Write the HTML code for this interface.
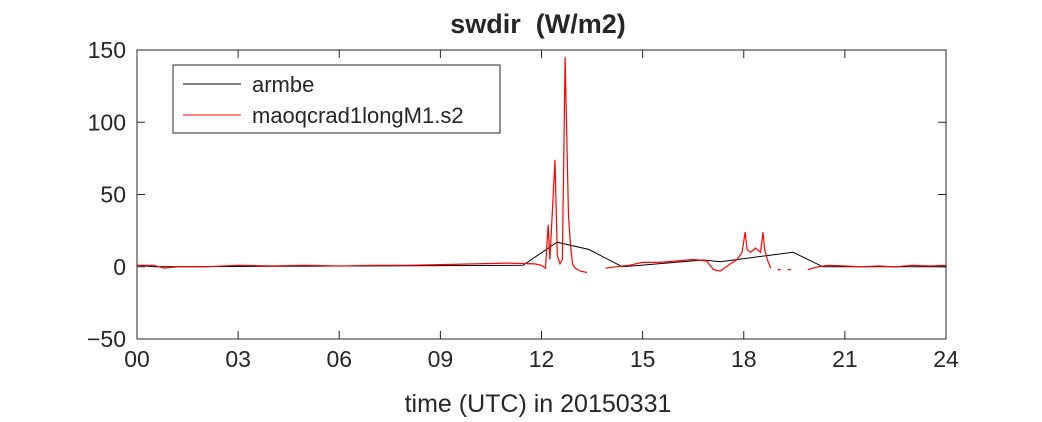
<!DOCTYPE html>
<html><head><meta charset="utf-8"><style>
body{margin:0;background:#fff;font-family:"Liberation Sans",sans-serif}
svg text{font-family:"Liberation Sans",sans-serif;fill:#262626}
</style></head><body>
<svg width="1042" height="417">
<g id="root"></g>
</svg>
<script>
const xTicks=[0,3,6,9,12,15,18,21,24];
const xTickLabels=["00","03","06","09","12","15","18","21","24"];
const yTicks=[-50,0,50,100,150];
const blackT=[0,0.5,11.45,12.46,13.4,14.4,16.8,17.3,19.46,20.35,24];
const blackV=[1,0,1,17,12,0,4.7,3.5,10,0,0];
const redT=[0,0.5,0.8,1.2,2,3,4,5,6,7,8,9,10,11,11.8,12.0,12.12,12.2,12.25,12.3,12.4,12.47,12.55,12.62,12.7,12.8,12.86,12.92,13.0,13.15,13.35,null,13.9,14.2,14.6,15,15.5,16,16.5,16.9,17.1,17.3,17.6,17.8,17.95,18.04,18.1,18.2,18.35,18.5,18.57,18.62,18.7,18.8,null,19.0,19.1,null,19.3,19.4,null,19.9,20.2,20.5,21,21.5,22,22.5,23,23.5,24];
const redV=[1,1,-1,0,0,1,0.5,1,0.5,1,1,1.5,2,2.5,2,1,-1,29,5,28,74,8,2,5,145,35,15,2,-1,-3,-4,null,-1,0,1,3,3,4,5,4,-2,-3,2,5,10,24,12,10,13,10,24,12,5,-1,null,-2,-2,null,-2,-2,null,-2,0,1,0.5,0,0.5,0,1,0.5,1];
const X=t=>137+(t/24)*809, Y=v=>266.75-v*1.445;
const NS="http://www.w3.org/2000/svg", root=document.getElementById('root');
function mk(tag,a,txt){const e=document.createElementNS(NS,tag);for(const k in a)e.setAttribute(k,a[k]);if(txt!==undefined)e.textContent=txt;root.appendChild(e);return e;}
let e=mk('rect',{x:137,y:50,width:809,height:289,fill:'#fff',stroke:'#262626','stroke-width':1});


xTicks.forEach((t,i)=>{
 let l=mk('path',{d:`M${X(t)},339v-8M${X(t)},50v8`,stroke:'#262626'});
 
 
 let tx=mk('text',{x:X(t),y:367,'text-anchor':'middle','font-size':23},xTickLabels[i]);
 
 
});
yTicks.forEach(v=>{
 let l=mk('path',{d:`M137,${Y(v)}h8M946,${Y(v)}h-8`,stroke:'#262626'});
 
 
 let tx=mk('text',{x:126,y:Y(v)+8,'text-anchor':'end','font-size':23},String(v).replace('-','−'));
 
 
});
function path(ts,vs){let d='',pen=false;ts.forEach((t,i)=>{if(t===null||vs[i]===null){pen=false;return;}d+=(pen?'L':'M')+X(t).toFixed(1)+','+Y(vs[i]).toFixed(1);pen=true;});return d;}
e=mk('path',{d:path(blackT,blackV),fill:'none',stroke:'#000','stroke-width':1});


e=mk('path',{d:path(redT,redV),fill:'none',stroke:'#f00','stroke-width':1.2});


e=mk('rect',{x:173,y:65,width:327,height:68,fill:'#fff',stroke:'#262626'});


e=mk('path',{d:'M183,84h58',stroke:'#000'});


e=mk('text',{x:252,y:92,'font-size':22},'armbe');


e=mk('path',{d:'M183,115h58',stroke:'#f00'});


e=mk('text',{x:252,y:123,'font-size':22},'maoqcrad1longM1.s2');


e=mk('text',{x:538,y:33,'text-anchor':'middle','font-size':27,'font-weight':'bold','fill':'#000'},'swdir  (W/m2)');
e.style.whiteSpace='pre';


e=mk('text',{x:538,y:412,'text-anchor':'middle','font-size':25},'time (UTC) in 20150331');


</script>
</body></html>
